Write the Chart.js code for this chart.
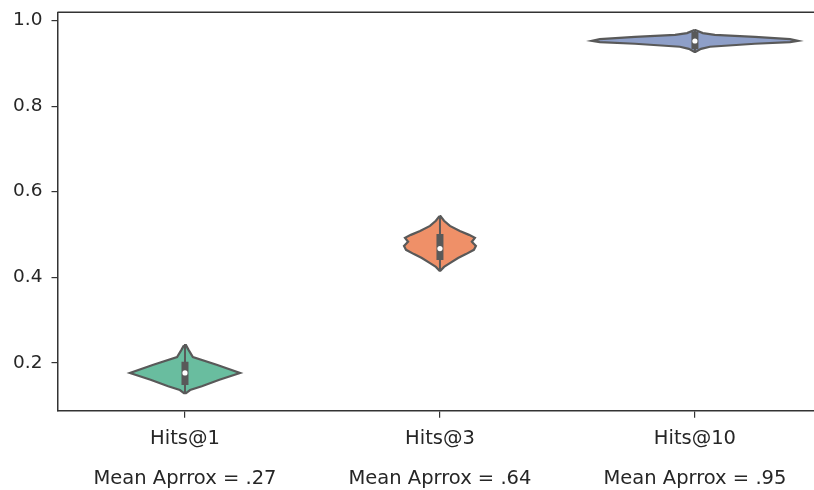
<!DOCTYPE html>
<html>
<head>
<meta charset="utf-8">
<script src="https://cdn.jsdelivr.net/npm/chart.js@4.4.0/dist/chart.umd.min.js"></script>
<style>
  html, body { margin: 0; padding: 0; background: #fff; }
  #wrap { width: 814px; height: 490px; }
</style>
</head>
<body>
<div id="wrap"><canvas id="chart"></canvas></div>
<script>
'use strict';

// Categories and the caption under each one
var categories = ['Hits@1', 'Hits@3', 'Hits@10'];
var meanLabels = ['Mean Aprrox = .27', 'Mean Aprrox = .64', 'Mean Aprrox = .95'];
var yTicks = [0.2, 0.4, 0.6, 0.8, 1.0];

// Violin outlines: value levels (top to bottom)
// and the half width of the violin at each level (in category units)
var hits1Levels = [0.241, 0.230, 0.213, 0.195, 0.176, 0.160, 0.145, 0.136, 0.129];
var hits1Widths = [0.004, 0.014, 0.031, 0.124, 0.216, 0.135, 0.066, 0.020, 0.004];

var hits3Levels = [0.543, 0.532, 0.520, 0.508, 0.499, 0.492, 0.483, 0.473, 0.464, 0.454, 0.445, 0.433, 0.424, 0.415];
var hits3Widths = [0.002, 0.016, 0.039, 0.078, 0.114, 0.137, 0.125, 0.141, 0.133, 0.102, 0.071, 0.039, 0.016, 0.002];

var hits10Levels = [0.978, 0.971, 0.967, 0.962, 0.957, 0.953, 0.950, 0.946, 0.939, 0.934, 0.927];
var hits10Widths = [0.002, 0.031, 0.078, 0.235, 0.373, 0.404, 0.373, 0.235, 0.059, 0.024, 0.002];

// Inner box of each violin
var whiskerLow  = [0.129, 0.415, 0.927];
var whiskerHigh = [0.241, 0.543, 0.978];
var boxLow      = [0.148, 0.440, 0.933];
var boxHigh     = [0.202, 0.501, 0.974];
var medians     = [0.176, 0.467, 0.9525];

var fills = ['#69bd9f', '#ef9068', '#8e9fc8'];
var gray = '#595959';
var axisColor = '#333333';
var textColor = '#262626';

function violinPoints(center, levels, widths) {
  var pts = [];
  levels.forEach(function(v, k) { pts.push({ x: center - widths[k], y: v }); });
  for (var k = levels.length - 1; k >= 0; k--) pts.push({ x: center + widths[k], y: levels[k] });
  pts.push(pts[0]);
  return pts;
}

var outlines = [
  violinPoints(0, hits1Levels, hits1Widths),
  violinPoints(1, hits3Levels, hits3Widths),
  violinPoints(2, hits10Levels, hits10Widths)
];

var datasets = [];
outlines.forEach(function(pts, i) {
  datasets.push({
    data: pts, showLine: true, fill: 'shape', tension: 0,
    backgroundColor: fills[i], borderColor: gray, borderWidth: 2.2,
    pointRadius: 0, order: 4
  });
  datasets.push({
    data: [{ x: i, y: whiskerLow[i] }, { x: i, y: whiskerHigh[i] }],
    showLine: true, borderColor: gray, borderWidth: 2, pointRadius: 0, order: 3
  });
  datasets.push({
    data: [{ x: i, y: boxLow[i] }, { x: i, y: boxHigh[i] }],
    showLine: true, borderColor: gray, borderWidth: 7, borderCapStyle: 'butt',
    pointRadius: 0, order: 2
  });
  datasets.push({
    data: [{ x: i, y: medians[i] }],
    pointRadius: 2.6, pointBackgroundColor: '#ffffff', pointBorderWidth: 0, order: 1
  });
});

// top spine (the right spine falls outside the picture)
var frame = {
  id: 'frame',
  afterDraw: function(chart) {
    var a = chart.chartArea, ctx = chart.ctx;
    ctx.save();
    ctx.strokeStyle = axisColor;
    ctx.lineWidth = 1.5;
    ctx.beginPath();
    ctx.moveTo(a.left, a.top);
    ctx.lineTo(chart.width, a.top);
    ctx.stroke();
    ctx.restore();
  }
};

Chart.defaults.font.family = 'DejaVu Sans';
Chart.defaults.font.size = 19.5;
Chart.defaults.color = textColor;

new Chart(document.getElementById('chart'), {
  type: 'scatter',
  data: { datasets: datasets },
  plugins: [frame],
  options: {
    responsive: true,
    maintainAspectRatio: false,
    animation: false,
    layout: { autoPadding: false, padding: { top: 12.3, right: 0, left: 0, bottom: 0 } },
    plugins: { legend: { display: false }, tooltip: { enabled: false } },
    scales: {
      x: {
        type: 'linear', min: -0.5, max: 2.467,
        afterBuildTicks: function(scale) {
          scale.ticks = categories.map(function(c, i) { return { value: i }; });
        },
        afterFit: function(scale) {
          scale.height = 79.3;
          scale.paddingLeft = 0;
          scale.paddingRight = 0;
        },
        ticks: {
          padding: 1,
          font: { lineHeight: 2.05 },
          callback: function(v) { return [categories[v], meanLabels[v]]; }
        },
        grid: { display: true, drawOnChartArea: false, drawTicks: true, tickLength: 7, color: axisColor, lineWidth: 1.2 },
        border: { display: true, color: axisColor, width: 1.5 }
      },
      y: {
        type: 'linear', min: 0.0877, max: 1.0196,
        afterBuildTicks: function(scale) {
          scale.ticks = yTicks.map(function(v) { return { value: v }; });
        },
        afterFit: function(scale) {
          scale.width = 57.5;
          scale.paddingTop = 0;
          scale.paddingBottom = 0;
        },
        ticks: {
          padding: 9,
          font: { size: 18.5 },
          callback: function(v) { return v.toFixed(1); }
        },
        grid: { display: true, drawOnChartArea: false, drawTicks: true, tickLength: 6, color: axisColor, lineWidth: 1.2 },
        border: { display: true, color: axisColor, width: 1.5 }
      }
    }
  }
});
</script>
</body>
</html>
